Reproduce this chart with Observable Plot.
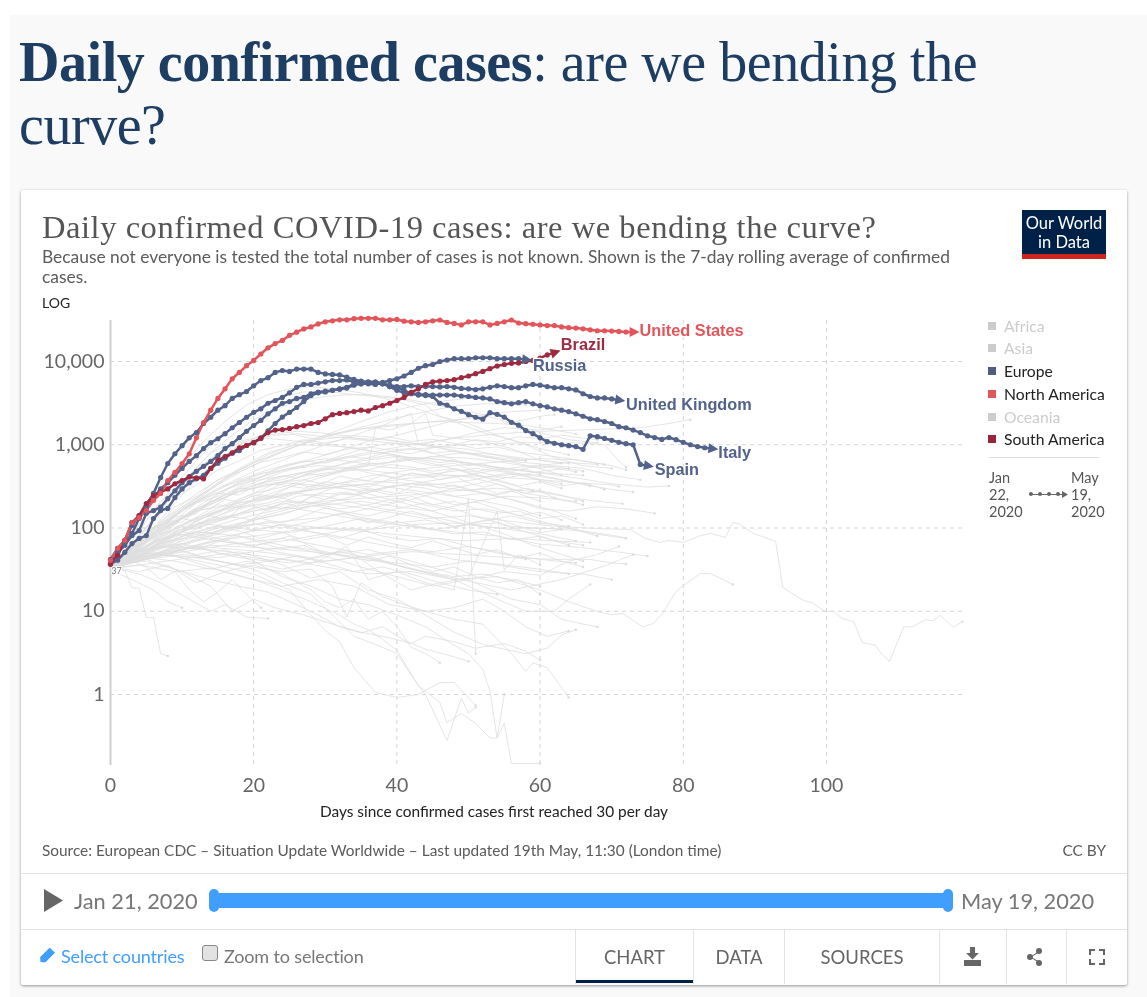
<!DOCTYPE html>
<html><head><meta charset="utf-8">
<script src="https://cdn.jsdelivr.net/npm/d3@7"></script>
<script src="https://cdn.jsdelivr.net/npm/@observablehq/plot@0.6"></script>
<style>
html,body{margin:0;padding:0;background:#fff}
#page{position:relative;width:1147px;height:997px;overflow:hidden;background:#fff;font-family:Lato,sans-serif;filter:blur(.4px)}
#bg{position:absolute;left:10px;top:15px;right:0;bottom:0;background:#f9f9f9}
#card{position:absolute;left:21px;top:190px;width:1106px;height:795px;background:#fff;border-radius:2px;box-shadow:0 1px 3px rgba(0,0,0,.4)}
.t{position:absolute;white-space:nowrap}
.hr{position:absolute;background:#e3e3e3}
#plot{position:absolute;left:0;top:300px}
.lg{position:absolute;left:988px;width:8px;height:8px}
.lt{position:absolute;left:1004px;font-size:15.7px;line-height:18px;white-space:nowrap}
</style></head><body>
<div id="page">
<div id="bg"></div><div id="card"></div>
<div class="t" style="left:19px;top:31px;font:56px/63px 'Liberation Serif',serif;letter-spacing:-.45px;color:#1d3d63"><b>Daily confirmed cases</b>: are we bending the<br>curve?</div>
<div class="t" style="left:42px;top:208px;font:32.5px/38px 'Liberation Serif',serif;color:#555;letter-spacing:.55px">Daily confirmed COVID-19 cases: are we bending the curve?</div>
<div class="t" style="left:42px;top:247px;font-size:17.4px;line-height:20px;color:#5b5b5b">Because not everyone is tested the total number of cases is not known. Shown is the 7-day rolling average of confirmed<br>cases.</div>
<div class="t" style="left:42px;top:294px;font-size:14px;line-height:17px;color:#222">LOG</div>
<div style="position:absolute;left:1022px;top:210px;width:84px;height:44px;background:#002147"></div>
<div style="position:absolute;left:1022px;top:254px;width:84px;height:5px;background:#ce261e"></div>
<div class="t" style="left:1022px;width:84px;top:214px;text-align:center;color:#fff;font-size:16.5px;line-height:19px">Our World<br>in Data</div>
<div id="plot"></div>
<div class="lg" style="top:322px;background:#ccc"></div><div class="lt" style="top:317px;color:#ccc">Africa</div>
<div class="lg" style="top:344px;background:#ccc"></div><div class="lt" style="top:339px;color:#ccc">Asia</div>
<div class="lg" style="top:367px;background:#4f5c7f"></div><div class="lt" style="top:362px;color:#222">Europe</div>
<div class="lg" style="top:390px;background:#e0565a"></div><div class="lt" style="top:385px;color:#222">North America</div>
<div class="lg" style="top:413px;background:#ccc"></div><div class="lt" style="top:408px;color:#ccc">Oceania</div>
<div class="lg" style="top:435px;background:#9a2438"></div><div class="lt" style="top:430px;color:#222">South America</div>
<div class="hr" style="left:989px;top:457px;width:110px;height:1px;background:#ddd"></div>
<div class="t" style="left:989px;top:469px;font-size:14.5px;line-height:17px;color:#555">Jan<br>22,<br>2020</div>
<div class="t" style="left:1071px;top:469px;font-size:14.5px;line-height:17px;color:#555">May<br>19,<br>2020</div>
<div class="hr" style="left:1029px;top:494px;width:34px;height:1px;background:#666"></div>
<div style="position:absolute;left:1029px;top:492px;width:4px;height:4px;border-radius:50%;background:#666"></div>
<div style="position:absolute;left:1038px;top:492px;width:4px;height:4px;border-radius:50%;background:#666"></div>
<div style="position:absolute;left:1047px;top:492px;width:4px;height:4px;border-radius:50%;background:#666"></div>
<div style="position:absolute;left:1056px;top:492px;width:4px;height:4px;border-radius:50%;background:#666"></div>
<div style="position:absolute;left:1062px;top:491px;width:6px;height:7px;background:#666;clip-path:polygon(0 0,100% 50%,0 100%)"></div>
<div class="t" style="left:42px;top:841px;font-size:15.4px;line-height:18px;color:#5b5b5b">Source: European CDC – Situation Update Worldwide – Last updated 19th May, 11:30 (London time)</div>
<div class="t" style="right:41px;top:841px;font-size:15.4px;line-height:18px;color:#5b5b5b">CC BY</div>
<div class="hr" style="left:21px;top:873px;width:1106px;height:1px"></div>
<div class="hr" style="left:21px;top:929px;width:1106px;height:1px"></div>
<div style="position:absolute;left:44px;top:889px;width:19px;height:23px;background:#666;clip-path:polygon(0 0,100% 50%,0 100%)"></div>
<div class="t" style="left:74px;top:888px;font-size:21.8px;line-height:26px;color:#777">Jan 21, 2020</div>
<div style="position:absolute;left:214px;top:893px;width:734px;height:15px;background:#409eff"></div>
<div style="position:absolute;left:209px;top:889px;width:10px;height:23px;border-radius:5px;background:#409eff"></div>
<div style="position:absolute;left:943px;top:889px;width:10px;height:23px;border-radius:5px;background:#409eff"></div>
<div class="t" style="left:961px;top:888px;font-size:21.8px;line-height:26px;color:#777">May 19, 2020</div>
<div style="position:absolute;left:38px;top:952px;width:17px;height:8px;background:#409eff;transform:rotate(-45deg);clip-path:polygon(0 50%,20% 0,100% 0,100% 100%,20% 100%)"></div>
<div class="t" style="left:61px;top:945px;font-size:18px;line-height:23px;color:#409eff;letter-spacing:-.15px">Select countries</div>
<div style="position:absolute;left:202px;top:945px;width:14px;height:14px;border:1px solid #888;border-radius:3px;background:#e2e2e2"></div>
<div class="t" style="left:224px;top:945px;font-size:18px;line-height:23px;color:#777;letter-spacing:-.15px">Zoom to selection</div>
<div class="hr" style="left:575px;top:930px;width:1px;height:54px"></div>
<div class="hr" style="left:693px;top:930px;width:1px;height:54px"></div>
<div class="hr" style="left:784px;top:930px;width:1px;height:54px"></div>
<div class="hr" style="left:939px;top:930px;width:1px;height:54px"></div>
<div class="hr" style="left:1006px;top:930px;width:1px;height:54px"></div>
<div class="hr" style="left:1066px;top:930px;width:1px;height:54px"></div>
<div class="t" style="left:576px;width:117px;top:946px;text-align:center;font-size:18.5px;line-height:23px;color:#666">CHART</div>
<div class="t" style="left:694px;width:90px;top:946px;text-align:center;font-size:18.5px;line-height:23px;color:#666">DATA</div>
<div class="t" style="left:785px;width:154px;top:946px;text-align:center;font-size:18.5px;line-height:23px;color:#666">SOURCES</div>
<div style="position:absolute;left:576px;top:980px;width:117px;height:3px;background:#002147"></div>
<div style="position:absolute;left:964px;top:947px;width:17px;height:20px;background:#666;clip-path:polygon(35% 0,65% 0,65% 30%,88% 30%,50% 62%,12% 30%,35% 30%,35% 0,0 0,0 0,35% 0,35% 0)"></div>
<div style="position:absolute;left:964px;top:960px;width:17px;height:6px;background:#666"></div>
<div style="position:absolute;left:1027px;top:954px;width:6px;height:6px;border-radius:50%;background:#666"></div>
<div style="position:absolute;left:1036px;top:948px;width:6px;height:6px;border-radius:50%;background:#666"></div>
<div style="position:absolute;left:1036px;top:960px;width:6px;height:6px;border-radius:50%;background:#666"></div>
<div style="position:absolute;left:1030px;top:951px;width:9px;height:12px;background:#666;clip-path:polygon(0 50%,100% 0,100% 12%,15% 50%,100% 88%,100% 100%)"></div>
<div style="position:absolute;left:1089px;top:949px;width:4px;height:4px;border-left:2px solid #666;border-top:2px solid #666"></div>
<div style="position:absolute;left:1099px;top:949px;width:4px;height:4px;border-right:2px solid #666;border-top:2px solid #666"></div>
<div style="position:absolute;left:1089px;top:959px;width:4px;height:4px;border-left:2px solid #666;border-bottom:2px solid #666"></div>
<div style="position:absolute;left:1099px;top:959px;width:4px;height:4px;border-right:2px solid #666;border-bottom:2px solid #666"></div>
</div>
<script>
// Highlighted countries: daily values, index = days since 30 cases/day
const unitedStates = [41,57,71,116,133,162,215,260,372,465,595,780,1210,1850,2600,3600,4700,6200,7400,8900,10300,12300,14600,16400,17900,20600,22500,24600,26000,28300,30000,30800,31700,31700,32700,33000,33000,33000,31700,31700,32000,30500,30000,29500,30000,30800,31500,29500,28700,27500,30000,30000,30000,27500,28700,30000,31500,29000,28500,28000,27500,27000,27000,26000,25500,25200,24700,24000,23400,23400,23200,23000,22600,22600];
const spain = [42,57,71,107,141,186,260,404,595,780,975,1210,1400,1800,2140,2600,2950,3600,4000,4350,5100,5900,6400,7400,7800,7600,8100,8100,8100,7400,7100,7000,6900,6500,6100,5800,5600,5400,5400,5000,4900,4500,4100,3950,3900,3800,3150,3000,2700,2520,2300,2140,2030,2430,2320,2150,1860,1720,1480,1360,1210,1090,1040,1000,975,950,880,1280,1250,1190,1130,1070,1030,1000,580,560];
const italy = [37,50,66,86,130,178,232,295,350,430,520,630,740,900,1060,1180,1360,1600,1850,2140,2450,2700,3150,3400,3700,4200,4900,5300,5300,5500,5700,5900,5900,6000,5700,5700,5700,5700,5500,5000,4500,4200,4150,4050,4000,3950,3950,3950,3950,3850,3800,3700,3650,3550,3300,3200,3100,3200,3300,3100,2950,2850,2700,2600,2500,2350,2200,2050,2000,1900,1800,1650,1600,1500,1400,1280,1220,1160,1220,1150,1070,1000,950,920,900];
const unitedKingdom = [37,51,62,81,93,150,162,178,225,280,350,415,480,550,630,740,900,1030,1220,1450,1700,1960,2350,2700,3150,3300,3600,3700,4100,4300,4400,4500,4650,4800,5200,5400,5500,5500,5400,5200,5000,5000,5100,5000,5000,5000,4950,5000,4900,4750,4700,4600,4700,4900,5100,5000,4850,4850,5100,5300,5200,5000,4850,4850,4700,4550,4100,3800,3650,3650,3550,3450];
const russia = [37,41,51,65,75,81,130,162,172,232,295,350,390,430,520,600,690,790,850,980,1060,1200,1470,1800,2150,2450,2800,3300,3900,4200,4300,4500,4700,4900,5400,5400,5400,5300,5600,5900,6200,6700,7400,8300,8900,9200,10000,10400,10800,10800,10800,11100,11100,11100,10800,10800,10800,10800,10570];
const brazil = [37,47,71,116,141,197,245,270,295,340,372,410,400,390,520,650,720,800,920,980,1060,1200,1400,1500,1520,1570,1650,1700,1800,1850,2050,2300,2380,2430,2500,2600,2550,2800,2950,3150,3400,3700,4250,4700,5300,5700,5800,5900,6050,6400,6700,7150,7600,8200,8800,9200,9500,9600,10000,10300,11000,12000,12800];

// Unselected countries: flat lists of day, value, day, value...
const grayHigh = [
[0,36,2,60,4,110,6,190,8,340,10,560,13,1100,16,1900,19,3000,22,4000,25,4700,28,5000,31,4700,35,4200,40,3300,44,2500,48,1900,52,1400,56,1150,60,900,64,760],
[0,34,3,70,6,160,9,330,12,640,15,1200,18,1900,21,2900,24,3800,27,4300,30,4400,33,4100,37,3800,40,3600,44,3000,46,2200,50,1800,54,1300,58,1000,62,700,66,560,70,520],
[0,33,3,90,6,170,9,300,12,520,14,800,17,1300,20,2000,23,2700,26,3300,29,3700,32,3950,36,4000,40,3700,44,3200,48,2700,52,2300,56,1800,60,1400,64,1150,68,1050],
[0,35,4,65,8,140,12,260,16,420,20,600,24,840,28,1100,32,1400,36,1700,40,2100,44,2500,48,2900,52,3100,56,3100,58,3000],
[0,38,3,60,7,120,11,200,15,330,19,520,23,750,27,1050,31,1400,35,1900,39,2500,43,3000,47,3400,50,3600,53,3500,57,3300],
[0,36,3,55,6,95,10,160,14,290,18,500,22,760,26,1050,30,1300,34,1500,38,1700,42,1800,46,1900,50,1850,54,1800,58,1700,62,1500,65,1350],
[0,33,2,50,5,100,8,190,11,330,14,540,17,820,20,1150,23,1300,26,1350,30,1250,34,1200,38,1150,42,1050,46,950,50,880,54,750,58,650],
[0,37,4,80,8,210,11,430,14,800,17,1050,20,1200,23,1350,26,1450,29,1400,32,1300,36,1250,40,1100,44,1000,48,830,52,720,56,620,60,520,63,430],
[0,35,3,65,6,130,9,260,12,500,15,800,18,1050,21,1200,24,1150,27,1080,31,1000,35,870,39,770,43,650,47,540,51,430,55,350,59,280],
[0,32,3,55,6,100,9,200,12,380,15,650,18,1000,21,1300,24,1500,26,1300,29,1150,33,1250,37,1100,41,1000,45,800,49,620,53,520,57,450,62,390,67,320],
[0,36,5,75,10,170,15,350,20,610,25,900,30,1250,35,1550,40,1700,45,1900,50,2050,54,2400,55,1800,58,2000,60,2200,62,2300],
[0,34,4,60,8,120,12,210,16,320,20,420,24,530,28,670,32,850,36,1100,40,1300,44,1600,48,1950,52,2300,56,2500,60,2600],
[0,35,5,60,10,130,15,230,20,380,25,520,30,640,35,880,39,1050,43,1000,47,1150,51,1400,55,1600,60,1500,63,1650],
[0,37,6,85,12,170,18,300,24,470,30,640,36,810,42,1000,48,1200,54,1350,60,1450,65,1500,70,1550,74,1600,78,1800,81,2000],
[0,31,3,48,6,90,10,180,14,300,18,520,22,800,26,1000,30,980,34,920,38,800,42,700,46,660,50,600,54,530,58,480,62,450,66,430],
[0,35,4,70,8,130,12,200,16,290,20,370,24,420,28,480,32,520,36,560,37,1600,39,1500,42,1800,44,2400,45,1300,48,1200,52,1100,56,900,60,650,63,600],
[0,34,5,70,10,170,15,300,20,480,25,700,30,1000,34,1300,38,1700,42,2400,43,1000,46,920,50,800,54,700,58,650],
[0,36,6,100,12,210,18,340,24,500,30,620,36,770,42,880,48,980,54,1040,60,1060,66,1050,69,1000,71,640,72,540]
];
const grayMid = [
[0,36,4,55,8,85,12,130,16,190,20,260,24,310,28,400,32,480,36,590,40,620,44,700,48,780,52,790,56,720,60,650,64,600],
[0,35,3,42,7,70,11,110,15,160,19,240,23,340,27,420,31,470,35,500,39,460,43,420,47,470,51,520,55,470,59,400,63,340],
[0,38,5,60,10,95,15,140,20,200,25,260,30,330,35,370,40,350,45,330,50,370,55,450,60,430,65,350,70,290,73,270],
[0,34,6,48,12,72,18,100,22,170,26,240,30,260,34,250,38,300,42,340,46,310,50,280,54,250,58,300,62,260,66,210],
[0,33,4,50,8,100,12,170,16,250,20,300,24,350,28,330,32,300,36,280,40,330,44,300,48,240,52,210,56,180,60,140],
[0,36,5,70,9,120,13,200,17,320,21,450,25,510,29,560,33,530,37,440,41,380,45,340,49,310,53,250,57,210,61,170,65,130],
[0,35,3,52,6,85,10,160,14,260,18,380,22,500,26,600,30,680,34,620,38,540,42,510,46,440,50,410,54,340,58,260,62,230,66,190],
[0,31,4,46,9,70,14,95,19,120,24,150,29,190,34,240,39,310,44,360,49,420,54,500,59,560,64,610,68,580],
[0,37,6,52,12,80,18,105,24,120,30,135,36,170,42,220,48,300,54,380,60,480,64,520],
[0,32,5,44,10,60,15,90,20,130,25,170,30,190,35,210,40,180,45,160,50,200,55,240,60,230,65,210],
[0,36,4,44,8,62,12,98,16,130,20,170,24,210,28,200,32,170,36,190,40,230,44,190,48,160,52,170,56,150,60,120,64,100,68,80],
[0,34,5,60,10,110,14,150,18,180,22,200,26,260,30,240,34,200,38,170,42,150,46,130,50,110,54,115,58,90,62,70,66,62],
[0,35,3,48,7,90,11,150,15,220,19,290,23,350,27,380,31,320,35,270,39,220,43,180,47,140,51,110,55,85,59,62,63,48,66,40],
[0,33,4,40,8,55,12,75,16,100,20,112,24,100,28,120,32,150,36,130,40,115,44,125,48,105,52,120,56,140,60,115,64,105],
[0,38,6,65,12,105,18,150,24,180,30,150,36,120,42,105,48,90,54,80,60,64,66,58,72,50,75,46],
[0,35,5,50,10,80,15,105,20,95,25,88,30,105,35,130,40,110,45,95,50,110,55,98,60,85,65,70],
[0,36,3,60,6,100,10,130,14,110,18,100,22,120,26,95,30,85,34,100,38,80,42,70,46,75,50,60,54,52,58,42],
[0,34,4,42,8,50,12,60,16,75,20,95,24,110,28,90,32,75,36,95,40,120,44,100,48,85,52,90,56,72,60,80,64,62],
[0,37,5,48,10,58,15,70,20,62,25,72,30,85,35,70,40,58,45,52,50,60,55,48,60,42,65,38],
[0,33,6,45,12,55,18,66,24,75,30,60,36,48,42,55,48,42,54,36,60,30,66,28,70,24],
[0,36,4,55,8,70,12,78,16,68,20,60,24,50,28,44,32,52,36,44,40,36,44,30,48,26,52,28,56,24,60,20],
[0,35,5,42,10,48,15,44,20,52,25,60,30,52,35,42,40,38,45,34,50,40,55,36,60,32,64,28],
[0,32,3,38,6,44,9,52,12,60,15,50,18,44,22,40,26,46,30,38,34,30,38,34,42,28,46,22,50,18,54,16],
[0,33,5,52,10,90,15,140,20,220,25,310,30,420,35,540,40,640,45,720,50,690,55,610,60,520,62,560,66,520,70,430,74,380],
[0,37,5,75,10,130,15,210,20,330,25,430,30,530,35,640,40,720,45,680,50,610,55,520,60,460,65,400,70,340,75,310,78,320],
[0,35,4,46,8,70,12,120,16,170,20,210,24,250,28,290,32,310,36,340,40,300,44,270,48,240,52,260,56,220,60,170,64,160,68,180,72,170,76,150],
[0,36,6,90,12,160,18,200,24,240,30,310,36,420,42,500,48,560,54,620,60,680,65,660,70,560,72,500],
[0,34,4,48,8,75,12,110,16,140,20,125,24,145,28,190,32,160,36,140,40,170,44,200,48,170,52,130,56,105,60,98,64,100,68,84,72,75],
[0,36,6,75,12,130,18,200,24,260,30,300,36,340,42,400,48,430,54,410,60,380,65,350,70,330,71,316],
[0,35,6,60,12,90,18,130,24,170,30,210,36,230,42,250,48,280,54,300,60,270,66,220,69,205,71.5,196],
[0,34,6,55,12,70,18,85,24,110,30,100,36,95,42,110,48,115,54,100,60,100,66,92,70,82,72,76],
[0,35,7,50,14,62,21,58,28,52,35,45,42,52,49,48,56,44,62,42,67,42,70,38,72,37],
[0,36,6,48,12,44,18,36,24,42,30,34,36,28,42,30,48,24,54,14,58,10,62,10,64,14,67,21],
[0,33,7,46,14,70,21,82,28,100,35,92,42,80,49,70,56,75,62,70,67,67]
];
const grayWiggly = [
[0,34,2,44,4,58,6,80,8,92,10,130,12,150,14,210,16,230,18,300,20,290,22,380,24,420,26,400,28,470,30,520,32,490,34,560,36,610,38,580,40,660,42,700,44,650,46,610,48,640,50,560,52,590,54,520,56,480,58,510,60,440],
[0,36,2,50,4,62,6,74,8,110,10,118,12,160,14,175,16,220,18,205,20,250,22,230,24,280,26,340,28,310,30,350,32,420,34,390,36,370,38,430,40,400,42,460,44,430,46,380,48,420,50,350,52,310,54,340,56,290,58,260,60,280,62,230],
[0,35,2,38,4,52,6,60,8,78,10,105,12,96,14,140,16,125,18,170,20,185,22,160,24,200,26,185,28,240,30,220,32,270,34,250,36,300,38,280,40,260,42,310,44,340,46,300,48,330,50,280,52,300,54,260,56,280,58,240,60,210],
[0,33,3,50,6,95,9,180,12,240,15,380,18,470,21,620,24,700,27,820,30,760,33,880,36,940,39,860,42,900,45,790,48,840,51,760,54,680,57,620,60,590,63,530,66,480],
[0,37,3,60,6,120,9,230,12,330,15,500,18,640,21,860,24,980,27,1150,30,1050,33,1180,36,1120,39,1240,42,1100,45,1160,48,1040,51,900,54,940,57,820,60,760,63,700,66,640,69,580],
[0,35,3,46,6,70,9,100,12,135,15,190,18,175,21,250,24,230,27,190,30,220,33,270,36,230,39,200,42,240,45,190,48,210,51,170,54,150,57,160,60,130,63,140,66,110],
[0,34,3,42,6,58,9,65,12,90,15,85,18,110,21,130,24,115,27,140,30,175,33,150,36,115,39,135,42,160,45,135,48,100,51,118,54,130,57,105,60,88,63,96],
[0,36,3,50,6,58,9,85,12,78,15,105,18,92,21,75,24,88,27,72,30,80,33,62,36,78,39,66,42,58,45,70,48,58,51,48,54,55,57,44,60,50,63,40,66,34],
[0,38,3,56,6,78,9,115,12,165,15,210,18,290,21,340,24,330,27,300,30,360,33,330,36,290,39,250,42,270,45,230,48,190,51,205,54,170,57,140,60,155,63,125],
[0,32,3,40,6,55,9,75,12,125,15,150,18,210,21,260,24,340,27,430,30,500,33,610,36,700,39,830,42,780,45,920,48,1000,51,1150,54,1080,57,1250,60,1180,63,1300,66,1200,68,1150],
[0,35,3,44,6,48,9,62,12,55,15,68,18,80,21,66,24,56,27,62,30,48,33,54,36,40,39,46,42,36,45,30,48,34,51,26,54,22,57,24,60,16],
[0,34,3,58,6,100,9,125,12,200,15,240,18,360,21,410,24,560,27,640,30,600,33,720,36,680,39,750,42,640,45,560,48,600,51,480,54,420,57,450,60,370,63,320,66,350,69,290],
[0,36,3,48,6,82,9,135,12,150,15,260,18,250,21,350,24,380,27,460,30,420,33,520,36,500,39,580,42,540,45,480,48,520,51,440,54,380,57,320,60,360,63,300],
[0,33,3,45,6,66,9,90,12,112,15,128,18,150,21,190,24,170,27,215,30,280,33,340,36,310,39,390,42,450,45,420,48,510,51,470,54,540,57,500,60,560,63,510,65,470]
];
const grayLow = [
[0,35,2,31,3,19,4,19,5,8.4,6,8.4,7,3.1,8,2.9],
[0,36,3,40,5,34,7,24,9,30,11,18,13,13,15,17,17,24,19,16,21,11],
[0,34,4,30,8,36,12,22,16,30,20,36,24,28,28,18,30,13,32,11,34,14,36,8,38,10,40,6.5,42,3.7,44,3.1,46,2.4],
[0,36,4,44,8,50,12,38,16,30,20,24,24,18,28,13,32,9,34,7,36,6,38,4.6,40,3.4,43,1.28,46,.8,47,.46,49,.59,51,.45,53,.3,54,.3,55,.45,56,.148,60,.148],
[0,33,5,46,10,52,15,40,20,32,24,22,28,16,31,9,34,5,37,4,40,3.1,43,1.28,44,1,47,.28,49,.9,50,.6,51,.7],
[0,37,5,50,10,44,15,36,20,28,25,18,28,9,30,5.9,32,4.3,34,2.1,37,1.06,40,.92,43,1,46,1.39,48,1.39,51,.74],
[0,35,4,55,8,60,12,48,16,55,20,40,24,26,28,20,32,14,36,12,40,9,44,6.5,48,3.9,50,3.1,52,2,53,1.1,54,.3,55,1],
[0,32,6,38,12,45,18,36,24,30,28,32,31,20,33,8.5,35,22,38,15,41,12,44,10,48,8,52,7,56,3.1,58,1.9,59,2.4,61,2.1,64,.92],
[0,36,5,40,10,30,14,24,18,20,22,17,26,12,29,9,32,6.5,35,5.5,38,6.5,41,4.5,44,3.5,47,3,50,2.5],
[0,34,4,28,7,22,11,14,14,10,16,12,19,8.5,22,8.2],
[0,31,3,24,6,18,8,13,10,11],
[0,35,5,42,10,30,14,20,17,10,20,14,23,11,27,9,31,7,35,5.6,39,4.8,42,4.1,44,5,48,4.3,51,3.6,55,4.1,58,3.3,60,2.6],
[0,38,6,50,12,44,18,52,24,36,28,25,32,30,36,18,40,14,44,9,48,5.6,52,4,55,3.5,58,3.1,61,3.6,63,5.2,65,6],
[0,33,4,36,9,30,14,33,19,25,24,20,29,24,34,20,39,12,44,10,48,11,52,14,55,10,58,6.5,61,5,64,5.8],
[0,36,4,45,9,40,14,32,19,40,24,32,29,40,33,60,36,24,40,30,44,22,48,18,50,230,51,3.1],
[0,35,5,60,10,90,15,75,20,60,25,80,30,50,35,42,38,28,42,18,46,22,50,25,54,160,55,31,57,48,60,36],
[0,34,6,70,12,90,18,80,24,62,30,48,36,55,42,40,48,28,52,20,56,14,60,12,63,8,66,7,68,6.5],
[0,36,7,60,14,55,21,46,28,38,35,45,42,32,49,24,56,18,63,24,69,35,73,48],
[0,37,5,55,10,65,15,50,20,44,25,38,30,46,35,34,40,26,45,20,50,24,55,30,60,27,64,40,68,48,71,60]
];
const grayLong = [
[0,36,5,55,10,90,15,120,20,160,26,210,32,190,38,160,44,130,50,140,56,120,62,105,68.4,98,72.6,96,74.7,75,76.8,67,77.9,71,80,67,82.4,81,83.8,86,85.9,77,86.9,116,87.7,113,89.8,86,92.9,69,93.9,19.3,96.8,13.5,98,12.7,99.6,10.2,101,9.9,102.2,8.2,103.8,7.5,105,4.2,106.8,3.9,107.8,3,108.8,2.5,110.8,6.5,112,6.5,113.8,7.9,114.9,7.7,115.9,8.9,117.7,6.4,119,7.5],
[0,35,6,48,12,60,18,55,24,48,30,40,36,46,42,32,48,24,54,26,60,18,64,13,68.4,9.7,70,9.1,71.6,9.4,74.3,6.5,75.8,7.1,77.1,9.4,78.9,16.8,80,20.4,82.4,28.4,83.8,28.4,86.9,21]
];

const xTicks = [0,20,40,60,80,100];
const yTicks = [1,10,100,1000,10000];
const europe = "#52628a", northAmerica = "#e2555a", southAmerica = "#9e2a40", grayLine = "#dedede";

// Label anchors (day, cases) of the country names
const labelNames = ["United States","Brazil","Russia","United Kingdom","Italy","Spain"];
const labelDays = [73.9,62.9,59,72,84.9,76];
const labelCases = [23400,16000,8990,3040,790,500];
const labelColors = [northAmerica,southAmerica,europe,europe,europe,europe];

const tidy = (values, name, color) => values.map((cases, day) => ({name, color, day, cases}));
const main = [
  ...tidy(spain,"Spain",europe), ...tidy(italy,"Italy",europe), ...tidy(unitedKingdom,"United Kingdom",europe),
  ...tidy(russia,"Russia",europe), ...tidy(brazil,"Brazil",southAmerica), ...tidy(unitedStates,"United States",northAmerica)
];
const grays = [...grayHigh, ...grayMid, ...grayWiggly, ...grayLow, ...grayLong].flatMap((row, k) => {
  const out = [];
  for (let i = 0; i < row.length; i += 2) out.push({id:k, day:row[i], cases:row[i+1]});
  return out;
});
const grayEnds = d3.rollups(grays, v => v[v.length-1], d => d.id).map(d => d[1]);

const pxPerDay = 852/119, pxPerDecade = 83.25;
const ends = d3.groups(main, d => d.name).map(([name, v]) => {
  const a = v[v.length-2], b = v[v.length-1];
  const dx = (b.day-a.day)*pxPerDay, dy = -Math.log10(b.cases/a.cases)*pxPerDecade;
  return {...b, angle: Math.atan2(dy, dx)*180/Math.PI};
});
const headSymbol = {draw(c, size){ const r = Math.sqrt(size/Math.PI); c.moveTo(r*1.3,0); c.lineTo(-r*.7,r); c.lineTo(-r*.7,-r); c.closePath(); }};

const chart = Plot.plot({
  width: 1010, height: 500,
  marginLeft: 110, marginRight: 48, marginTop: 20, marginBottom: 35,
  style: {fontFamily:"Lato, sans-serif", background:"transparent", overflow:"visible"},
  x: {domain:[0,119]},
  y: {type:"log", domain:[0.1403,31080]},
  marks: [
    Plot.ruleY(yTicks, {stroke:"#d4d4d4", strokeDasharray:"4,4"}),
    Plot.ruleX(xTicks.slice(1), {stroke:"#d4d4d4", strokeDasharray:"4,4"}),
    Plot.line(grays, {x:"day", y:"cases", z:"id", stroke:grayLine, strokeWidth:1, strokeOpacity:.8, clip:true}),
    Plot.dot(grayEnds, {x:"day", y:"cases", r:1.2, fill:"#dcdcdc"}),
    Plot.ruleX([0], {stroke:"#cfcfcf", strokeWidth:2}),
    Plot.axisY({ticks:yTicks, tickSize:0, tickPadding:6, tickFormat:d3.format(","), label:null, fontSize:19.5, fill:"#666"}),
    Plot.axisX({ticks:xTicks, tickSize:0, tickPadding:13, label:null, fontSize:19.5, fill:"#666"}),
    Plot.text(["Days since confirmed cases first reached 30 per day"], {frameAnchor:"bottom", dy:47, dx:-42.5, fontSize:15.4, fill:"#222", lineAnchor:"middle"}),
    Plot.line(main, {x:"day", y:"cases", z:"name", stroke:"color", strokeWidth:2.5}),
    Plot.dot(main, {x:"day", y:"cases", r:2.6, fill:"color"}),
    Plot.dot(ends, {x:"day", y:"cases", r:5, fill:"color", symbol:headSymbol, rotate:"angle"}),
    Plot.text(["37"], {x:[0.85], y:[30], fontSize:9, fill:"#777", stroke:"white", strokeWidth:2}),
    Plot.text(labelNames, {x:labelDays, y:labelCases, text:d=>d, fill:labelColors, textAnchor:"start", fontSize:16.3, fontWeight:"bold", fontFamily:"Liberation Sans, sans-serif", stroke:"white", strokeWidth:2.5})
  ]
});
document.getElementById("plot").appendChild(chart);
</script>
</body></html>
